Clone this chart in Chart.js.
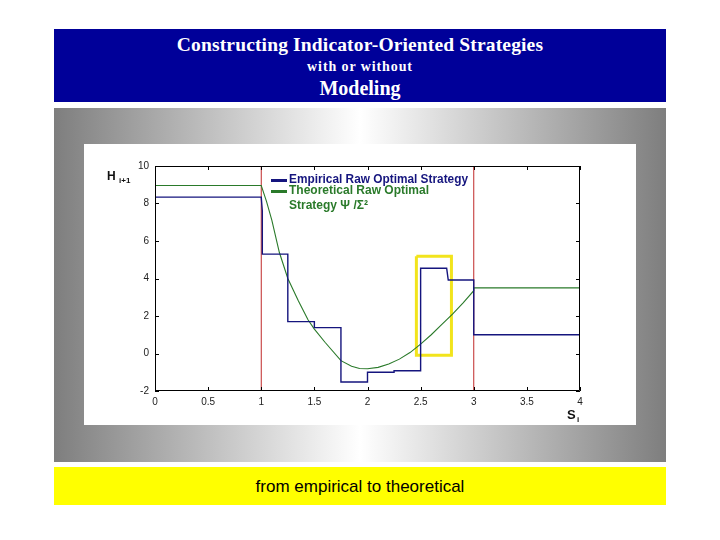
<!DOCTYPE html>
<html>
<head>
<meta charset="utf-8">
<script src="https://cdn.jsdelivr.net/npm/chart.js@4"></script>
<style>
  body { margin: 0; background: #fff; width: 720px; height: 540px; position: relative; overflow: hidden; }
  #header { position: absolute; left: 54px; top: 29px; width: 612px; height: 73px; background: #000099; color: #fff;
            font-family: "Liberation Serif", "DejaVu Serif", serif; font-weight: bold; text-align: center; }
  #header div { position: absolute; left: 0; width: 100%; }
  #panel { position: absolute; left: 54px; top: 108px; width: 612px; height: 354px;
           background: linear-gradient(to right, #7e7e7e 0%, #ffffff 50%, #7e7e7e 100%); }
  #box { position: absolute; left: 84px; top: 144px; width: 552px; height: 281px; background: #fff; }
  #footer { position: absolute; left: 54px; top: 467px; width: 612px; height: 38px; background: #ffff00;
            font-family: "Liberation Sans", Arial, sans-serif; font-size: 17px; line-height: 40px; text-align: center; color: #000; }
</style>
</head>
<body>
<div id="header">
  <div style="top:5px;font-size:19.5px;letter-spacing:0.15px;">Constructing Indicator-Oriented Strategies</div>
  <div style="top:30px;font-size:14px;letter-spacing:0.9px;">with or without</div>
  <div style="top:48px;font-size:20px;">Modeling</div>
</div>
<div id="panel"></div>
<div id="box"><canvas id="chart" width="552" height="281"></canvas></div>
<div id="footer">from empirical to theoretical</div>
<script>
// empirical raw optimal strategy (step function)
const empiricalS = [0, 1, 1.01, 1.01, 1.25, 1.25, 1.5, 1.5, 1.75, 1.75, 2.0, 2.0, 2.25, 2.25, 2.5, 2.5, 2.745, 2.76, 3.0, 3.0, 4.0];
const empiricalH = [8.34, 8.34, 7.6, 5.3, 5.3, 1.7, 1.7, 1.38, 1.38, -1.52, -1.52, -1.0, -1.0, -0.92, -0.92, 4.55, 4.55, 3.92, 3.92, 1.0, 1.0];

// theoretical raw optimal strategy
const theoS = [0, 1, 1.05, 1.1, 1.17, 1.25, 1.35, 1.44, 1.5, 1.6, 1.75, 1.85, 1.925, 2.0, 2.1, 2.2, 2.3, 2.4, 2.5, 2.6, 2.7, 2.8, 2.9, 3.0, 3.0, 4.0];
const theoH = [8.96, 8.96, 8.1, 7.1, 5.4, 4.0, 2.8, 1.8, 1.3, 0.6, -0.38, -0.68, -0.8, -0.81, -0.74, -0.56, -0.3, 0.05, 0.5, 1.0, 1.55, 2.1, 2.7, 3.35, 3.5, 3.5];

// markers
const boundS = [1, 3];
const highlightS = [2.46, 2.79];
const highlightH = [-0.09, 5.19];

const xTicks = [0, 0.5, 1, 1.5, 2, 2.5, 3, 3.5, 4];
const yTicks = [-2, 0, 2, 4, 6, 8, 10];

const legendLines = [
  ['Empirical Raw Optimal Strategy'],
  ['Theoretical Raw Optimal', 'Strategy \u03A8 /\u03A3\u00B2']
];

const pts = (xs, ys) => xs.map((x, i) => ({ x: x, y: ys[i] }));

const datasets = [
  { label: 'Empirical Raw Optimal Strategy', data: pts(empiricalS, empiricalH), borderColor: '#15157e', borderWidth: 1.4 },
  { label: 'Theoretical Raw Optimal Strategy', data: pts(theoS, theoH), borderColor: '#2a7a2a', borderWidth: 1.1 }
];
boundS.forEach(s => datasets.push({ data: [{ x: s, y: yTicks[0] }, { x: s, y: yTicks[yTicks.length - 1] }], borderColor: '#c02828', borderWidth: 1 }));
datasets.push({
  data: [
    { x: highlightS[0], y: highlightH[1] }, { x: highlightS[1], y: highlightH[1] },
    { x: highlightS[1], y: highlightH[0] }, { x: highlightS[0], y: highlightH[0] },
    { x: highlightS[0], y: highlightH[1] }
  ],
  borderColor: '#f2e41c', borderWidth: 3
});

const frame = {
  id: 'frame',
  afterDraw(chart) {
    const ctx = chart.ctx, a = chart.chartArea;
    const xs = chart.scales.x, ys = chart.scales.y;
    ctx.save();
    ctx.strokeStyle = '#000';
    ctx.lineWidth = 1;
    ctx.beginPath();
    ctx.rect(a.left + 0.5, a.top + 0.5, a.right - a.left - 1, a.bottom - a.top - 1);
    xTicks.forEach(v => {
      const px = Math.round(xs.getPixelForValue(v)) + 0.5;
      ctx.moveTo(px, a.bottom); ctx.lineTo(px, a.bottom - 4);
      ctx.moveTo(px, a.top); ctx.lineTo(px, a.top + 4);
    });
    yTicks.forEach(v => {
      const py = Math.round(ys.getPixelForValue(v)) + 0.5;
      ctx.moveTo(a.left, py); ctx.lineTo(a.left + 4, py);
      ctx.moveTo(a.right, py); ctx.lineTo(a.right - 4, py);
    });
    ctx.stroke();

    // legend
    const lx = a.left + 116, ly = a.top + 13;
    const colors = ['#15157e', '#2a7a2a'];
    ctx.font = 'bold 12px "Liberation Sans", Arial, sans-serif';
    ctx.textBaseline = 'middle';
    ctx.textAlign = 'left';
    let row = 0;
    legendLines.forEach((lines, i) => {
      ctx.fillStyle = colors[i];
      ctx.fillRect(lx, ly + row * 11, 16, 3);
      lines.forEach(t => {
        const w = ctx.measureText(t).width;
        ctx.save();
        ctx.translate(lx + 18, ly + 1 + row * 11 + (row === 2 ? 4 : 0));
        if (i === 0) ctx.scale(179 / w, 1);
        ctx.fillText(t, 0, 0);
        ctx.restore();
        row++;
      });
    });

    // axis titles
    ctx.fillStyle = '#111';
    ctx.font = 'bold 12px "Liberation Sans", Arial, sans-serif';
    ctx.fillText('H', 23, 33);
    ctx.font = 'bold 8px "Liberation Sans", Arial, sans-serif';
    ctx.fillText('i+1', 35, 37);
    ctx.font = 'bold 13px "Liberation Sans", Arial, sans-serif';
    ctx.fillText('S', 483, 271);
    ctx.font = 'bold 8px "Liberation Sans", Arial, sans-serif';
    ctx.fillText('i', 493, 276);
    ctx.restore();
  }
};

new Chart(document.getElementById('chart').getContext('2d'), {
  type: 'scatter',
  data: { datasets: datasets },
  options: {
    responsive: false,
    animation: false,
    layout: { padding: { left: 0, top: 22, right: 56, bottom: 0 } },
    elements: { point: { radius: 0, hoverRadius: 0 }, line: { tension: 0, fill: false } },
    datasets: { scatter: { showLine: true } },
    plugins: { legend: { display: false }, tooltip: { enabled: false } },
    scales: {
      x: {
        type: 'linear', min: 0, max: 4,
        afterBuildTicks: s => { s.ticks = xTicks.map(v => ({ value: v })); },
        afterFit: s => { s.height = 34; },
        grid: { display: false, drawTicks: false },
        border: { display: false },
        ticks: { color: '#222', padding: 5, maxRotation: 0, font: { family: '"Liberation Sans", Arial, sans-serif', size: 10 }, callback: v => String(v) }
      },
      y: {
        type: 'linear', min: -2, max: 10,
        afterBuildTicks: s => { s.ticks = yTicks.map(v => ({ value: v })); },
        afterFit: s => { s.width = 71; },
        grid: { display: false, drawTicks: false },
        border: { display: false },
        ticks: { color: '#222', padding: 6, font: { family: '"Liberation Sans", Arial, sans-serif', size: 10 }, callback: v => String(v) }
      }
    }
  },
  plugins: [frame]
});
</script>
</body>
</html>
